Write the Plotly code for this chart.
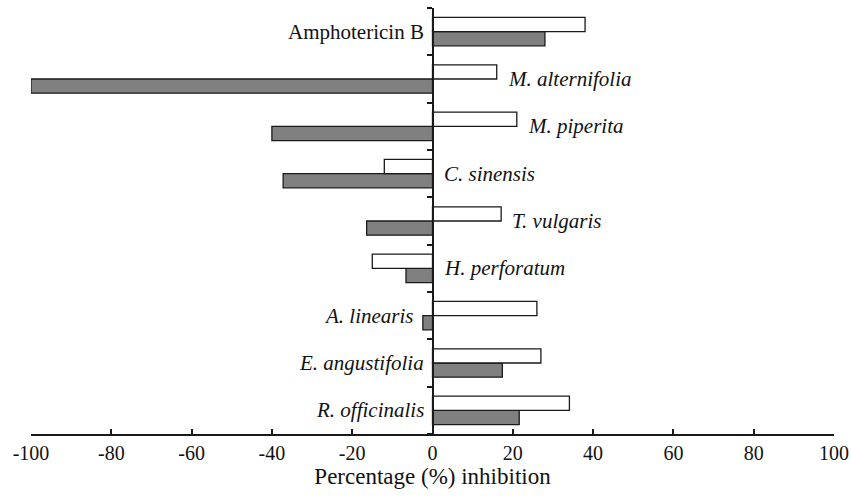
import plotly.graph_objects as go

categories = ["R. officinalis", "E. angustifolia", "A. linearis", "H. perforatum",
              "T. vulgaris", "C. sinensis", "M. piperita", "M. alternifolia", "Amphotericin B"]
white_values = [34.1, 27.0, 26.0, -15.0, 17.1, -12.0, 21.0, 16.0, 38.0]
gray_values = [21.6, 17.4, -2.4, -6.6, -16.4, -37.2, -40.0, -100.0, 28.0]
x_ticks = [-100, -80, -60, -40, -20, 0, 20, 40, 60, 80, 100]
x_title = "Percentage (%) inhibition"

label_left = {"Amphotericin B", "A. linearis", "E. angustifolia", "R. officinalis"}
italic = {c: c != "Amphotericin B" for c in categories}

FONT = "'Liberation Serif', 'Times New Roman', Times, serif"
LINE = "#1a1a1a"

fig = go.Figure()
fig.add_trace(go.Bar(y=categories, x=gray_values, orientation="h",
                     marker=dict(color="#808080", line=dict(color=LINE, width=1.3)),
                     showlegend=False))
fig.add_trace(go.Bar(y=categories, x=white_values, orientation="h",
                     marker=dict(color="white", line=dict(color=LINE, width=1.3)),
                     showlegend=False))

annotations = []
for c, w, g in zip(categories, white_values, gray_values):
    txt = f"<i>{c}</i>" if italic[c] else c
    if c in label_left:
        x = min(0, w, g)
        annotations.append(dict(x=x, y=c, xref="x", yref="y", text=txt, showarrow=False,
                                xanchor="right", xshift=-7, font=dict(family=FONT, size=21, color="#111")))
    else:
        x = max(0, w, g)
        annotations.append(dict(x=x, y=c, xref="x", yref="y", text=txt, showarrow=False,
                                xanchor="left", xshift=9, font=dict(family=FONT, size=21, color="#111")))

fig.update_layout(
    width=851, height=498,
    margin=dict(l=31, r=17, t=8, b=64, autoexpand=False),
    plot_bgcolor="white", paper_bgcolor="white",
    barmode="group", bargap=0.4, bargroupgap=0,
    annotations=annotations,
    font=dict(family=FONT, color="#111"),
    xaxis=dict(range=[-100, 100], tickvals=x_ticks, ticktext=[str(v) for v in x_ticks],
               automargin=False,
               showgrid=False, zeroline=False, showline=True, linecolor=LINE, linewidth=1.5,
               ticks="inside", ticklen=5, tickwidth=1.5, tickcolor=LINE,
               tickfont=dict(family=FONT, size=20, color="#111"),
               title=dict(text=x_title, standoff=0,
                          font=dict(family=FONT, size=23, color="#111"))),
    yaxis=dict(range=[-0.5, 8.5], anchor="free", position=0.5, showgrid=False, zeroline=False,
               automargin=False,
               showline=True, linecolor=LINE, linewidth=1.5, showticklabels=False,
               ticks="outside", tickson="boundaries", ticklen=5, tickwidth=1.5, tickcolor=LINE),
)

fig.write_html("out.html", config={"displayModeBar": False},
               post_script="document.body.style.margin='0';document.body.style.overflow='hidden';")
